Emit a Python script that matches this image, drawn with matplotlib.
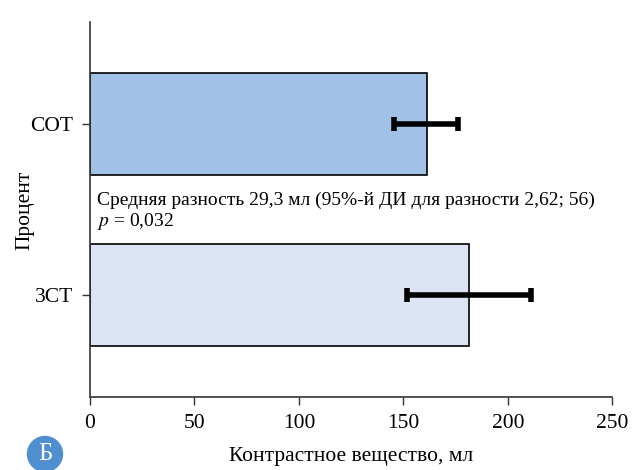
import matplotlib
matplotlib.use("Agg")
import matplotlib.pyplot as plt
from matplotlib.patches import Ellipse

plt.rcParams['font.family'] = ['Liberation Serif', 'DejaVu Serif']
plt.rcParams['mathtext.fontset'] = 'stix'

groups = ["3СТ", "СОТ"]
volume_ml = [181.4, 161.2]
ci_low = [151.9, 145.5]
ci_high = [211.0, 176.3]
bar_colors = ["#dce3f3", "#a1c1e6"]
xticks = [0, 50, 100, 150, 200, 250]

W, H = 644, 470
fig = plt.figure(figsize=(W / 100, H / 100), dpi=100)
ax = fig.add_axes([90 / W, 1 - 397.3 / H, 522.3 / W, 375.6 / H])

ypos = list(range(len(groups)))
ax.barh(ypos, volume_ml, height=0.6, color=bar_colors, edgecolor="black", linewidth=1.2, zorder=2)

for y, lo, hi in zip(ypos, ci_low, ci_high):
    ax.plot([lo, hi], [y, y], color="black", lw=4, solid_capstyle="butt", zorder=3)
    for xv in (lo, hi):
        ax.plot([xv, xv], [y - 0.04, y + 0.04], color="black", lw=4, solid_capstyle="butt", zorder=3)

ax.set_xlim(0, 250)
ax.set_ylim(-0.6, 1.6)
ax.set_xticks(xticks)
ax.set_yticks(ypos)
ax.set_yticklabels(groups)
ax.tick_params(axis="both", labelsize=15.5, length=6, width=1, color="#333333", pad=6)
for s in ("top", "right"):
    ax.spines[s].set_visible(False)
for s in ("left", "bottom"):
    ax.spines[s].set_linewidth(1.2)
    ax.spines[s].set_color("#333333")

ax.set_xlabel("Контрастное вещество, мл", fontsize=15.5, labelpad=10)
fig.text(25 / W, 1 - 210 / H, "Процент", fontsize=15.5, rotation=90, ha="center", va="center")

ax.text(0.014, 0.525, "Средняя разность 29,3 мл (95%-й ДИ для разности 2,62; 56)",
        transform=ax.transAxes, fontsize=14, va="center", ha="left")
ax.text(0.014, 0.468, "$p$ = 0,032", transform=ax.transAxes, fontsize=14, va="center", ha="left")

# panel marker
cx, cy, r = 45 / W, 1 - 454 / H, 17.5
circ = Ellipse((cx, cy), 2 * r / W, 2 * r / H, transform=fig.transFigure,
               color="#4f8fcf", zorder=5)
fig.patches.append(circ)
fig.text(cx, cy, "Б", color="white", fontsize=18, ha="center", va="center", zorder=6)

fig.savefig("out.png", dpi=100)
